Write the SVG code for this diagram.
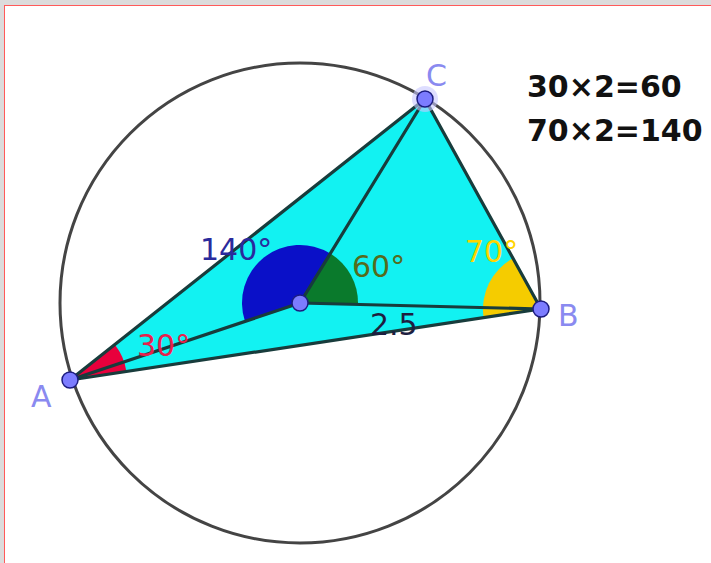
<svg xmlns="http://www.w3.org/2000/svg" width="711" height="563" viewBox="0 0 711 563">
<style>
.seg{stroke:#183c3c;stroke-width:3.2;fill:none;stroke-linecap:round}
.pt{fill:#7c7cff;stroke:#1c1c80;stroke-width:1.5}
.plabel{font-family:"DejaVu Sans",sans-serif;font-size:30px;fill:#8a8af0}
.alabel{font-family:"DejaVu Sans",sans-serif;font-size:30px}
.calc{font-family:"DejaVu Sans",sans-serif;font-size:30px;font-weight:bold;fill:#111}
</style>
<rect x="0" y="0" width="711" height="563" fill="#dcdcdc"/>
<rect x="4.5" y="5.5" width="720" height="570" fill="#ffffff" stroke="#ff5a5a" stroke-width="1"/>
<g id="triangle">
<polygon points="70,380 541,309 425,99" fill="#12f2f2"/>
</g>
<g id="angles">
<path id="angle-AOC" d="M300,303 L330.3,253.5 A58,58 0 0 0 245.0,321.4 Z" fill="#0a10c8"/>
<path id="angle-COB" d="M300,303 L330.3,253.5 A58,58 0 0 1 357.98,304.4 Z" fill="#0a7a2c"/>
<path id="angle-A" d="M70,380 L126.4,371.5 A57,57 0 0 0 114.7,344.6 Z" fill="#e8003c"/>
<path id="angle-B" d="M541,309 L483.6,317.6 A58,58 0 0 1 513.0,258.2 Z" fill="#f5cc00"/>
</g>
<g id="connectors">
<line class="seg" x1="70" y1="380" x2="541" y2="309"/>
<line class="seg" x1="541" y1="309" x2="425" y2="99"/>
<line class="seg" x1="425" y1="99" x2="70" y2="380"/>
<line class="seg" x1="300" y1="303" x2="70" y2="380"/>
<line class="seg" x1="300" y1="303" x2="541" y2="309"/>
<line class="seg" x1="300" y1="303" x2="425" y2="99"/>
</g>
<g id="circle">
<circle cx="300" cy="303" r="240" fill="none" stroke="#444444" stroke-width="3"/>
</g>
<g id="angle-labels">
<text class="alabel" x="200" y="260" fill="#2a2a9c">140°</text>
<text class="alabel" x="352" y="277" fill="#556b1c">60°</text>
<text class="alabel" x="465" y="262" fill="#ffd400">70°</text>
<text class="alabel" x="137" y="356" fill="#e8204c">30°</text>
<text class="alabel" x="370" y="335" fill="#1e1e40">2.5</text>
</g>
<g id="point-A">
<circle class="pt" cx="70" cy="380" r="8"/>
<text class="plabel" x="31" y="407">A</text>
</g>
<g id="point-B">
<circle class="pt" cx="541" cy="309" r="8"/>
<text class="plabel" x="558" y="326">B</text>
</g>
<g id="point-C">
<circle cx="425" cy="99" r="13" fill="#c8c8ff" opacity="0.6"/>
<circle class="pt" cx="425" cy="99" r="8"/>
<text class="plabel" x="426" y="86">C</text>
</g>
<g id="point-O">
<circle class="pt" cx="300" cy="303" r="8"/>
</g>
<g id="calc">
<text class="calc" x="527" y="97">30×2=60</text>
<text class="calc" x="527" y="141">70×2=140</text>
</g>
</svg>
